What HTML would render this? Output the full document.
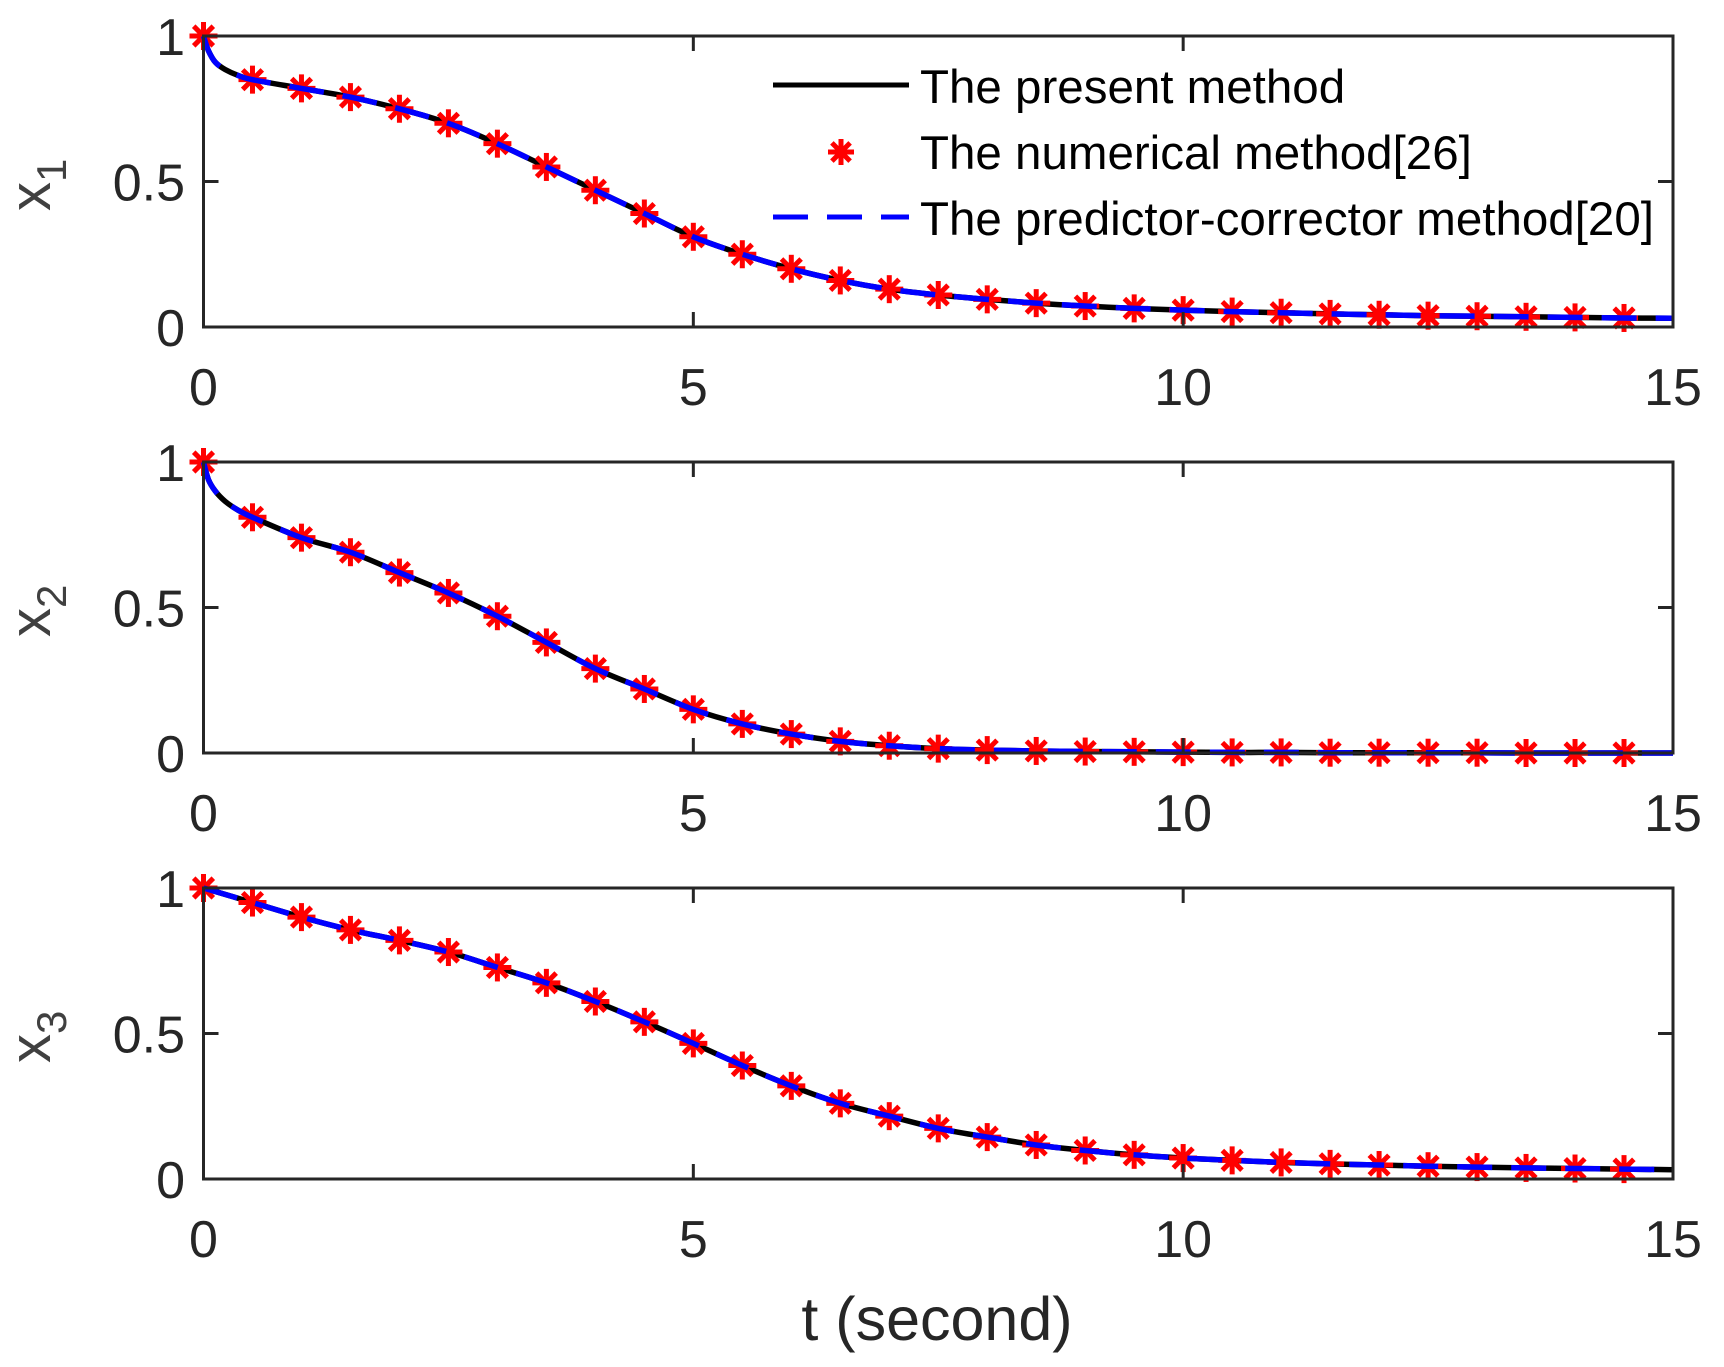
<!DOCTYPE html>
<html><head><meta charset="utf-8"><style>html,body{margin:0;padding:0;background:#fff}svg{display:block}</style></head>
<body>
<svg id="s" width="1724" height="1367" xmlns="http://www.w3.org/2000/svg" font-family="Liberation Sans, Arial, sans-serif">
<rect width="1724" height="1367" fill="#fff"/>
<g id="plots"></g>
<text x="937" y="1340" font-size="61" text-anchor="middle" fill="#262626">t (second)</text>
<line x1="773" y1="85" x2="909" y2="85" stroke="#000" stroke-width="5"/>
<g stroke="#f00" stroke-width="5" id="legm"></g>
<line x1="773" y1="217" x2="909" y2="217" stroke="#00f" stroke-width="5" stroke-dasharray="35,19"/>
<g font-size="47.5" fill="#000">
<text x="920" y="103">The present method</text>
<text x="920" y="169">The numerical method[26]</text>
<text x="920" y="235">The predictor-corrector method[20]</text>
</g>
</svg>
<script>
const L=203.5,R=1673,tops=[36,462,888],H=291;
const X=t=>L+(R-L)*t/15;
const ts=[];for(let i=0;i<=30;i++)ts.push(i*0.5);
const d1=[1,.85,.82,.79,.75,.70,.63,.55,.47,.39,.31,.25,.20,.16,.13,.11,.095,.082,.072,.064,.058,.053,.049,.045,.042,.039,.037,.035,.033,.031,.03];
const d2=[1,.81,.74,.69,.62,.55,.47,.38,.29,.22,.15,.10,.065,.04,.025,.015,.01,.007,.005,.004,.003,.002,.002,.001,.001,.001,.001,0,0,0,0];
const d3=[1,.95,.90,.856,.82,.78,.727,.674,.61,.54,.466,.39,.32,.26,.216,.174,.144,.117,.098,.083,.072,.064,.057,.052,.048,.044,.041,.038,.036,.034,.032];
const early=[[[0,1],[0.05,.95],[0.12,.91],[0.22,.885],[0.35,.865]],[[0,1],[0.05,.94],[0.12,.9],[0.22,.865],[0.35,.835]],null];
const data=[d1,d2,d3];
function pathFor(k,top){
  let pts=[];
  if(early[k]){pts=early[k].slice();}else pts=[[0,1]];
  for(let i=1;i<ts.length;i++)pts.push([ts[i],data[k][i]]);
  const P=pts.map(p=>[X(p[0]),top+H*(1-p[1])]);
  let d='M'+P[0][0].toFixed(1)+','+P[0][1].toFixed(1);
  for(let i=0;i<P.length-1;i++){
    const p0=P[Math.max(0,i-1)],p1=P[i],p2=P[i+1],p3=P[Math.min(P.length-1,i+2)];
    const c1=[p1[0]+(p2[0]-p0[0])/6,p1[1]+(p2[1]-p0[1])/6];
    const c2=[p2[0]-(p3[0]-p1[0])/6,p2[1]-(p3[1]-p1[1])/6];
    d+=`C${c1[0].toFixed(1)},${c1[1].toFixed(1)} ${c2[0].toFixed(1)},${c2[1].toFixed(1)} ${p2[0].toFixed(1)},${p2[1].toFixed(1)}`;
  }
  return d;
}
function star(x,y,r){
  const a=r*0.7;
  return `<line x1="${x}" y1="${y-r}" x2="${x}" y2="${y+r}"/><line x1="${x-r}" y1="${y}" x2="${x+r}" y2="${y}"/><line x1="${x-a}" y1="${y-a}" x2="${x+a}" y2="${y+a}"/><line x1="${x-a}" y1="${y+a}" x2="${x+a}" y2="${y-a}"/>`;
}
let g='';
const ax='#262626';
for(let k=0;k<3;k++){
  const top=tops[k],bot=top+H;
  const d=pathFor(k,top);
  g+=`<path d="${d}" fill="none" stroke="#000" stroke-width="5.5"/>`;
  g+=`<g stroke="#f00" stroke-width="5">`;
  for(let i=0;i<30;i++)g+=star(X(ts[i]),top+H*(1-data[k][i]),14);
  g+=`</g>`;
  g+=`<path d="${d}" fill="none" stroke="#00f" stroke-width="5.5" stroke-dasharray="35,19"/>`;
  g+=`<rect x="${L}" y="${top}" width="${R-L}" height="${H}" fill="none" stroke="${ax}" stroke-width="3"/>`;
  for(const t of [5,10]){g+=`<line x1="${X(t)}" y1="${bot}" x2="${X(t)}" y2="${bot-15}" stroke="${ax}" stroke-width="3"/><line x1="${X(t)}" y1="${top}" x2="${X(t)}" y2="${top+15}" stroke="${ax}" stroke-width="3"/>`;}
  const ym=top+H/2;
  g+=`<line x1="${L}" y1="${ym}" x2="${L+15}" y2="${ym}" stroke="${ax}" stroke-width="3"/><line x1="${R}" y1="${ym}" x2="${R-15}" y2="${ym}" stroke="${ax}" stroke-width="3"/>`;
  g+=`<g font-size="52" fill="${ax}">`;
  for(const t of [0,5,10,15])g+=`<text x="${X(t)}" y="${bot+78}" text-anchor="middle">${t}</text>`;
  g+=`<text x="185" y="${top+19}" text-anchor="end">1</text><text x="185" y="${ym+19}" text-anchor="end">0.5</text><text x="185" y="${bot+19}" text-anchor="end">0</text>`;
  g+=`</g>`;
  g+=`<text transform="translate(50,${top+175}) rotate(-90)" font-size="58" fill="#404040">x<tspan font-size="42" dy="16">${k+1}</tspan></text>`;
}
document.getElementById('plots').innerHTML=g;
document.getElementById('legm').innerHTML=star(841,152,13);
</script>
</body></html>
